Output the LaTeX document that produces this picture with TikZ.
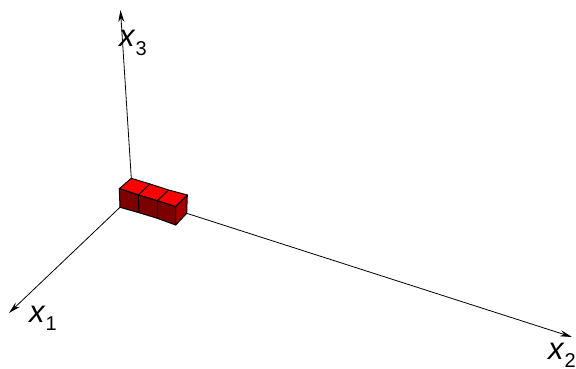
\documentclass[tikz,border=0pt]{standalone}
\usepackage{fontspec}
\setmainfont{Liberation Sans}
\usetikzlibrary{arrows.meta}
\definecolor{topred}{RGB}{255,0,0}
\definecolor{frontred}{RGB}{125,0,0}
\definecolor{sidered}{RGB}{165,0,0}
\tikzset{
  axisline/.style={draw=black,line width=0.8pt,-{Stealth[length=12pt,width=6pt]}},
  cubeedge/.style={draw=black,line width=1pt,line join=round},
  axislabel/.style={inner sep=0pt,font=\fontsize{31}{31}\selectfont},
}
\newcommand{\axlab}[2]{\textit{#1}\raisebox{-0.27em}{\fontsize{20}{20}\selectfont #2}}
\begin{document}
\begin{tikzpicture}[x=1pt,y=-1pt]
\useasboundingbox (0,0) rectangle (576,369);
\coordinate (bk) at (131.3,178.3);
\coordinate (tl) at (119.3,188.7);
\coordinate (bk1) at (150,184);
\coordinate (bk2) at (168.7,190);
\coordinate (tr) at (187.3,195);
\coordinate (f1) at (138.3,195);
\coordinate (f2) at (157.3,200.7);
\coordinate (f3) at (175.7,206.7);
\coordinate (bl) at (120,207.3);
\coordinate (b1) at (139,212.7);
\coordinate (b2) at (157.3,218.3);
\coordinate (b3) at (175.7,225);
\coordinate (br) at (186.7,213.3);
\coordinate (tipone) at (9,313);
\coordinate (tiptwo) at (572,337);
\coordinate (tipthree) at (120.5,10);
\draw[axisline] (bl) -- (tipone);
\draw[axisline] (br) -- (tiptwo);
\draw[axisline] (bk) -- (tipthree);
\node[axislabel,anchor=base west] (lone) at (29,322) {\axlab{x}{1}};
\node[axislabel,anchor=base west] (ltwo) at (548,359) {\axlab{x}{2}};
\node[axislabel,anchor=base west] (lthree) at (119,47) {\axlab{x}{3}};
\filldraw[cubeedge,fill=topred] (tl) -- (bk) -- (bk1) -- (bk2) -- (tr) -- (f3) -- (f2) -- (f1) -- cycle;
\filldraw[cubeedge,fill=frontred] (tl) -- (f1) -- (f2) -- (f3) -- (b3) -- (b2) -- (b1) -- (bl) -- cycle;
\filldraw[cubeedge,fill=sidered] (f3) -- (tr) -- (br) -- (b3) -- cycle;
\draw[cubeedge] (f1) -- (b1) (f2) -- (b2);
\draw[cubeedge] (f1) -- (bk1) (f2) -- (bk2);
\end{tikzpicture}
\end{document}
